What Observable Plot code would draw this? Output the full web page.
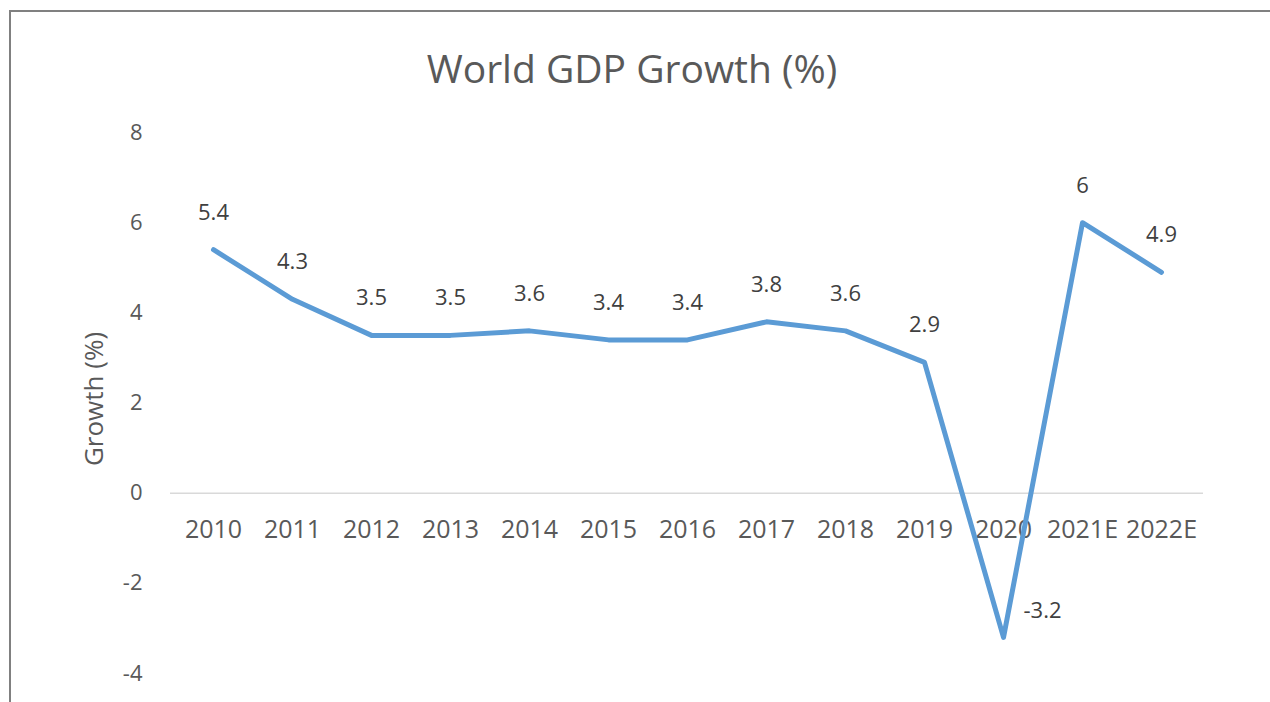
<!DOCTYPE html>
<html>
<head>
<meta charset="utf-8">
<script src="https://cdn.jsdelivr.net/npm/d3@7"></script>
<script src="https://cdn.jsdelivr.net/npm/@observablehq/plot@0.6"></script>
<style>
  html, body { margin: 0; padding: 0; background: #fff; overflow: hidden; }
  body { width: 1270px; height: 702px; }
  #frame {
    position: absolute; left: 9px; top: 10px; right: -10px; bottom: -10px;
    border-left: 2px solid #808080; border-top: 2px solid #808080;
    box-sizing: border-box;
  }
  #title {
    position: absolute; left: 0; top: 0; width: 1264px; height: 110px;
    box-sizing: border-box; padding-top: 46px; text-align: center;
    font-family: "Open Sans", sans-serif; font-size: 39px; line-height: 44px;
    color: #595959;
  }
  #chart { position: absolute; left: 11px; top: 112px; }
  #chart svg { display: block; }
</style>
</head>
<body>
<div id="frame"></div>
<div id="title">World GDP Growth (%)</div>
<div id="chart"></div>
<script>
const years = ["2010","2011","2012","2013","2014","2015","2016","2017","2018","2019","2020","2021E","2022E"];
const growth = [5.4, 4.3, 3.5, 3.5, 3.6, 3.4, 3.4, 3.8, 3.6, 2.9, -3.2, 6, 4.9];
const yTicks = [-4, -2, 0, 2, 4, 6, 8];
const yLabel = "Growth (%)";

const data = years.map((year, i) => ({year, value: growth[i]}));
const below = data.filter(d => d.value < 0);
const above = data.filter(d => d.value >= 0);

const chart = Plot.plot({
  width: 1259,
  height: 590,
  marginLeft: 159,
  marginRight: 67,
  marginTop: 20,
  marginBottom: 29,
  style: { fontFamily: "'Open Sans', sans-serif", background: "transparent" },
  x: { type: "point", domain: years, padding: 0.5, axis: null },
  y: { domain: [-4, 8], ticks: yTicks, axis: null },
  marks: [
    Plot.axisY({
      ticks: yTicks, tickSize: 0, tickPadding: 28, tickFormat: d => String(d),
      fontSize: 22, color: "#595959", label: null
    }),
    Plot.text([yLabel], { frameAnchor: "left", textAnchor: "middle", rotate: -90, dx: -76, dy: -4, fontSize: 26, fill: "#595959" }),
    Plot.ruleY([0], { stroke: "#d9d9d9", strokeWidth: 1.5 }),
    Plot.text(years, { x: d => d, y: () => 0, dy: 37, fontSize: 25, fill: "#595959" }),
    Plot.line(data, { x: "year", y: "value", stroke: "#5b9bd5", strokeWidth: 5, strokeLinejoin: "round", strokeLinecap: "round" }),
    Plot.text(above, { x: "year", y: "value", text: d => String(d.value), dy: -37, fontSize: 22, fill: "#404040" }),
    Plot.text(below, { x: "year", y: "value", text: d => String(d.value), dx: 20, dy: -26, textAnchor: "start", fontSize: 22, fill: "#404040" })
  ]
});
document.getElementById("chart").appendChild(chart);
</script>
</body>
</html>
